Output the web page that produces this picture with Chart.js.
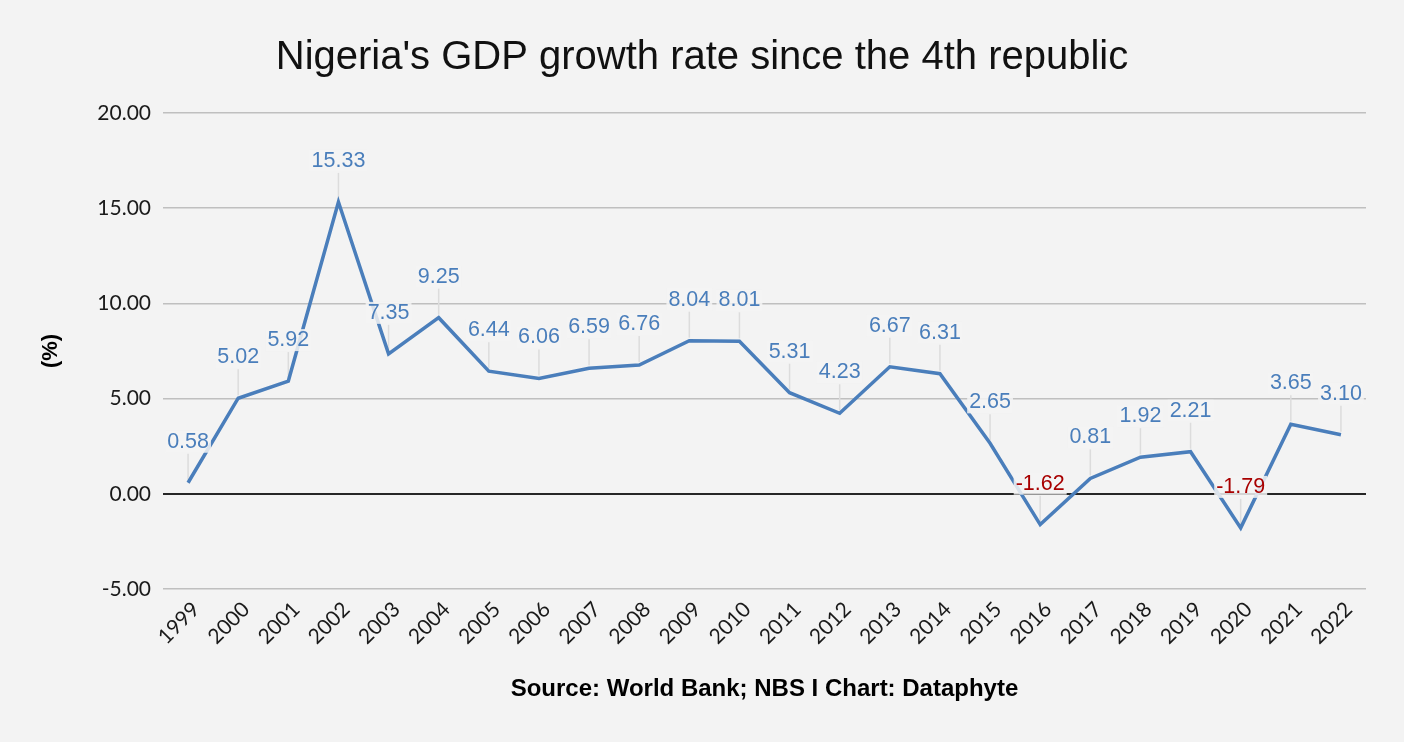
<!DOCTYPE html>
<html>
<head>
<meta charset="utf-8">
<script src="https://cdn.jsdelivr.net/npm/chart.js@4"></script>
<style>
  html, body { margin: 0; padding: 0; background: #f3f3f3; }
  #wrap { width: 1404px; height: 742px; }
</style>
</head>
<body>
<div id="wrap"><canvas id="gdpChart"></canvas></div>
<script>
const years = ['1999', '2000', '2001', '2002', '2003', '2004', '2005', '2006', '2007', '2008', '2009', '2010',
               '2011', '2012', '2013', '2014', '2015', '2016', '2017', '2018', '2019', '2020', '2021', '2022'];
const growth = [0.58, 5.02, 5.92, 15.33, 7.35, 9.25, 6.44, 6.06, 6.59, 6.76, 8.04, 8.01,
                5.31, 4.23, 6.67, 6.31, 2.65, -1.62, 0.81, 1.92, 2.21, -1.79, 3.65, 3.10];

const bg = '#f3f3f3';
const lineBlue = '#4a7ebb';

// fondo del canvas
const bgPlugin = {
    id: 'bg',
    beforeDraw(chart) {
        const c = chart.ctx;
        c.save();
        c.fillStyle = bg;
        c.fillRect(0, 0, chart.width, chart.height);
        c.restore();
    }
};

// etiquetas con linea guia
const labelPlugin = {
    id: 'valueLabels',
    beforeDatasetsDraw(chart) {
        const c = chart.ctx;
        const pts = chart.getDatasetMeta(0).data;
        c.save();
        c.strokeStyle = '#dcdcdc';
        c.lineWidth = 1.5;
        pts.forEach(p => {
            c.beginPath();
            c.moveTo(p.x, p.y - 29);
            c.lineTo(p.x, p.y - 3);
            c.stroke();
        });
        c.restore();
    },
    afterDatasetsDraw(chart) {
        const c = chart.ctx;
        const pts = chart.getDatasetMeta(0).data;
        c.save();
        c.font = '21.5px "Liberation Sans", Arial, sans-serif';
        c.textAlign = 'center';
        c.textBaseline = 'middle';
        pts.forEach((p, i) => {
            const v = growth[i];
            const txt = v.toFixed(2);
            const w = c.measureText(txt).width;
            const y = p.y - 41;
            c.fillStyle = 'rgba(243,243,243,0.85)';
            c.fillRect(p.x - w / 2 - 2, y - 11, w + 4, 22);
            c.fillStyle = v < 0 ? '#a80000' : '#4a7ebb';
            c.fillText(txt, p.x, y);
        });
        c.restore();
    }
};

new Chart(document.getElementById('gdpChart'), {
    type: 'line',
    data: {
        labels: years,
        datasets: [{
            data: growth,
            borderColor: lineBlue,
            borderWidth: 3.5,
            pointRadius: 0,
            tension: 0,
            fill: false
        }]
    },
    options: {
        responsive: true,
        maintainAspectRatio: false,
        animation: false,
        layout: { padding: 0 },
        plugins: {
            legend: { display: false },
            tooltip: { enabled: false },
            title: {
                display: true,
                text: "Nigeria's GDP growth rate since the 4th republic",
                color: '#111',
                font: { family: '"Liberation Sans", Arial, sans-serif', size: 40, weight: 'normal' },
                padding: { top: 34, bottom: 31 }
            }
        },
        scales: {
            x: {
                offset: true,
                grid: { display: false },
                border: { display: false },
                ticks: {
                    color: '#1a1a1a',
                    font: { family: 'Lato, sans-serif', size: 21 },
                    minRotation: 45,
                    maxRotation: 45,
                    autoSkip: false,
                    labelOffset: 8,
                    padding: 0
                },
                title: {
                    display: true,
                    text: 'Source: World Bank; NBS I Chart: Dataphyte',
                    color: '#000',
                    font: { family: '"Liberation Sans", Arial, sans-serif', size: 24, weight: 'bold' },
                    padding: { top: 4, bottom: 38 }
                },
                afterFit(scale) { scale.height = 153; }
            },
            y: {
                min: -5,
                max: 20,
                border: { display: false },
                grid: {
                    drawTicks: false,
                    color: ctx => ctx.tick && ctx.tick.value === 0 ? '#262626' : '#bfbfbf',
                    lineWidth: ctx => ctx.tick && ctx.tick.value === 0 ? 2 : 1.5
                },
                ticks: {
                    stepSize: 5,
                    color: '#1a1a1a',
                    padding: 12,
                    font: { family: 'Lato, sans-serif', size: 21 },
                    callback: v => v.toFixed(2)
                },
                title: {
                    display: true,
                    text: '(%)',
                    color: '#000',
                    font: { family: '"Liberation Sans", Arial, sans-serif', size: 22, weight: 'bold' },
                    padding: { top: 38, bottom: 0 }
                },
                afterFit(scale) { scale.width = 163; }
            },
            // eje vacio a la derecha, solo para dejar margen
            yRight: {
                position: 'right',
                display: true,
                grid: { display: false },
                border: { display: false },
                ticks: { display: false },
                afterFit(scale) { scale.width = 38; }
            }
        }
    },
    plugins: [bgPlugin, labelPlugin]
});
</script>
</body>
</html>
